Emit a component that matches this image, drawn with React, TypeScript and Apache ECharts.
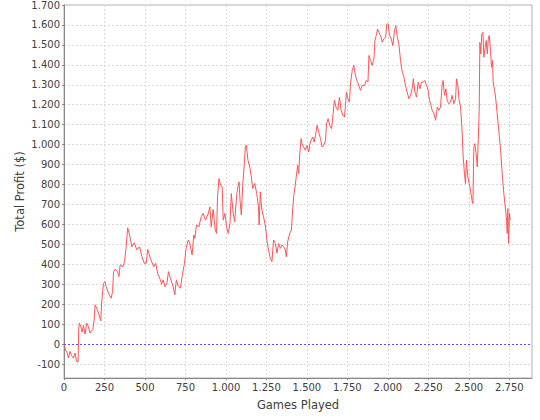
import React, { useEffect, useRef } from "react";
import * as echarts from "echarts";

// Games played (x) and cumulative total profit in $ (y)
const gamesPlayed = [
  0, 10, 20, 27, 37, 45, 58, 68, 78, 87, 91, 95, 105, 112, 120, 130, 140, 150, 161, 170,
  178, 186, 192, 202, 213, 220, 227, 233, 244, 254, 260, 275, 291, 300, 306, 316, 331, 339, 347, 364,
  374, 384, 393, 405, 419, 434, 450, 467, 481, 496, 508, 517, 533, 554, 566, 578, 595, 603, 612, 624,
  636, 645, 657, 674, 684, 694, 705, 719, 729, 744, 754, 767, 777, 791, 802, 808, 818, 833, 847, 859,
  874, 888, 901, 909, 921, 934, 942, 948, 957, 967, 977, 983, 994, 1004, 1014, 1025, 1033, 1045, 1054, 1064,
  1070, 1081, 1087, 1095, 1103, 1112, 1120, 1126, 1136, 1147, 1157, 1165, 1178, 1190, 1201, 1205, 1212, 1222, 1232, 1243,
  1253, 1263, 1274, 1284, 1294, 1305, 1315, 1325, 1336, 1346, 1356, 1367, 1373, 1381, 1394, 1404, 1412, 1418, 1424, 1433,
  1443, 1449, 1456, 1464, 1470, 1480, 1490, 1501, 1511, 1521, 1536, 1545, 1553, 1563, 1573, 1584, 1594, 1604, 1615, 1621,
  1631, 1641, 1652, 1662, 1670, 1680, 1691, 1701, 1711, 1722, 1732, 1738, 1744, 1753, 1763, 1769, 1780, 1790, 1796, 1805,
  1817, 1827, 1831, 1841, 1856, 1866, 1877, 1883, 1893, 1903, 1914, 1920, 1928, 1936, 1944, 1955, 1965, 1975, 1986, 1994,
  2002, 2010, 2021, 2031, 2041, 2049, 2058, 2068, 2078, 2089, 2099, 2109, 2119, 2130, 2140, 2150, 2157, 2167, 2177, 2187,
  2198, 2208, 2218, 2228, 2239, 2249, 2257, 2266, 2274, 2284, 2295, 2305, 2315, 2325, 2335, 2341, 2350, 2358, 2366, 2376,
  2387, 2397, 2407, 2418, 2424, 2432, 2440, 2449, 2457, 2465, 2473, 2479, 2485, 2494, 2502, 2510, 2521, 2525, 2531, 2537,
  2545, 2552, 2558, 2564, 2568, 2574, 2580, 2587, 2593, 2601, 2607, 2614, 2620, 2626, 2634, 2640, 2646, 2650, 2659, 2665,
  2675, 2685, 2696, 2706, 2716, 2727, 2733, 2737, 2741, 2745, 2751, 2755,
];

const totalProfit = [
  0, -30, -45, -70, -37, -55, -70, -45, -87, -90, 80, 105, 85, 60, 95, 50, 105, 88, 55, 65,
  72, 120, 197, 180, 155, 135, 117, 213, 305, 313, 288, 255, 230, 263, 363, 375, 363, 338, 397, 388,
  413, 488, 583, 547, 488, 508, 472, 488, 438, 405, 405, 475, 430, 388, 405, 355, 322, 300, 322, 288,
  305, 363, 330, 288, 247, 322, 292, 280, 338, 405, 480, 522, 505, 447, 547, 530, 597, 588, 638, 655,
  622, 647, 688, 588, 675, 572, 555, 738, 830, 797, 788, 622, 655, 588, 555, 605, 755, 655, 613, 722,
  772, 813, 722, 647, 788, 888, 988, 997, 922, 888, 838, 780, 805, 755, 688, 597, 763, 672, 638, 597,
  522, 472, 430, 413, 522, 505, 455, 505, 480, 497, 488, 472, 438, 513, 555, 572, 672, 738, 772, 830,
  897, 855, 955, 1030, 1005, 988, 972, 997, 963, 1013, 1038, 1013, 1047, 1097, 1063, 1030, 988, 997, 1022, 1105,
  1130, 1097, 1080, 1155, 1222, 1188, 1172, 1238, 1172, 1147, 1138, 1197, 1263, 1230, 1213, 1305, 1372, 1397, 1363, 1330,
  1305, 1280, 1272, 1297, 1297, 1322, 1313, 1447, 1422, 1397, 1430, 1522, 1547, 1580, 1563, 1547, 1513, 1530, 1538, 1605,
  1605, 1547, 1530, 1497, 1572, 1597, 1538, 1505, 1422, 1363, 1338, 1297, 1263, 1230, 1247, 1280, 1330, 1263, 1238, 1313,
  1280, 1313, 1313, 1322, 1297, 1272, 1222, 1197, 1172, 1155, 1122, 1188, 1172, 1188, 1297, 1322, 1247, 1280, 1222, 1205,
  1213, 1247, 1205, 1230, 1330, 1297, 1222, 1188, 1088, 938, 855, 805, 922, 838, 805, 772, 713, 705, 988, 1005,
  955, 888, 1022, 1172, 1513, 1455, 1555, 1563, 1438, 1488, 1522, 1455, 1530, 1547, 1472, 1388, 1422, 1313, 1272, 1238,
  1155, 1072, 972, 855, 755, 672, 622, 555, 680, 505, 655, 622,
];

const xMin = 0;
const xMax = 2890;
const xStep = 250;
const yMin = -170;
const yMax = 1700;
const yStep = 100;
const zeroLine = 0;

const fmt = (v: number) => {
  const s = Math.abs(Math.round(v)).toString().replace(/\B(?=(\d{3})+(?!\d))/g, ".");
  return (v < 0 ? "-" : "") + s;
};

export default function App() {
  const ref = useRef<HTMLDivElement>(null);
  useEffect(() => {
    if (!ref.current) return;
    const chart = echarts.init(ref.current, null, { renderer: "svg" });
    const data = gamesPlayed.map((g, i) => [g, totalProfit[i]]);
    const labelStyle = { color: "#404040", fontSize: 10, fontFamily: "DejaVu Sans" };
    const nameStyle = { color: "#404040", fontSize: 11.5, fontFamily: "DejaVu Sans" };
    const split = { show: true, lineStyle: { color: "#dadada", type: [2, 2], width: 1 } };
    chart.setOption({
      animation: false,
      backgroundColor: "#ffffff",
      grid: {
        left: 64,
        top: 5,
        width: 468,
        height: 373,
        show: true,
        borderColor: "#b0b0b0",
        borderWidth: 1,
        backgroundColor: "#ffffff",
      },
      xAxis: {
        type: "value",
        min: xMin,
        max: xMax,
        minInterval: xStep,
        maxInterval: xStep,
        splitNumber: 12,
        name: "Games Played",
        nameLocation: "middle",
        nameGap: 21,
        nameMoveOverlap: false,
        nameTextStyle: nameStyle,
        axisLine: { show: true, onZero: false, lineStyle: { color: "#888888" } },
        axisTick: { show: true, length: 2, lineStyle: { color: "#888888" } },
        axisLabel: { ...labelStyle, formatter: fmt, margin: 4, showMaxLabel: false },
        splitLine: split,
      },
      yAxis: {
        type: "value",
        min: yMin,
        max: yMax,
        minInterval: yStep,
        maxInterval: yStep,
        splitNumber: 18,
        name: "Total Profit ($)",
        nameLocation: "middle",
        nameGap: 38,
        nameMoveOverlap: false,
        nameTextStyle: nameStyle,
        axisLine: { show: true, lineStyle: { color: "#888888" } },
        axisTick: { show: true, length: 2, lineStyle: { color: "#888888" } },
        axisLabel: { ...labelStyle, formatter: fmt, margin: 4, showMinLabel: false, showMaxLabel: true },
        splitLine: split,
      },
      series: [
        {
          type: "line",
          data,
          symbol: "none",
          showSymbol: false,
          lineStyle: { color: "#ff5555", width: 1 },
          markLine: {
            silent: true,
            symbol: ["none", "none"],
            label: { show: false },
            lineStyle: { color: "#5555ff", type: [2, 2], width: 1 },
            data: [{ yAxis: zeroLine }],
          },
        },
      ],
    });
    return () => chart.dispose();
  }, []);
  return (
    <div
      ref={ref}
      style={{ position: "fixed", left: 0, top: 0, width: 540, height: 420 }}
    />
  );
}
